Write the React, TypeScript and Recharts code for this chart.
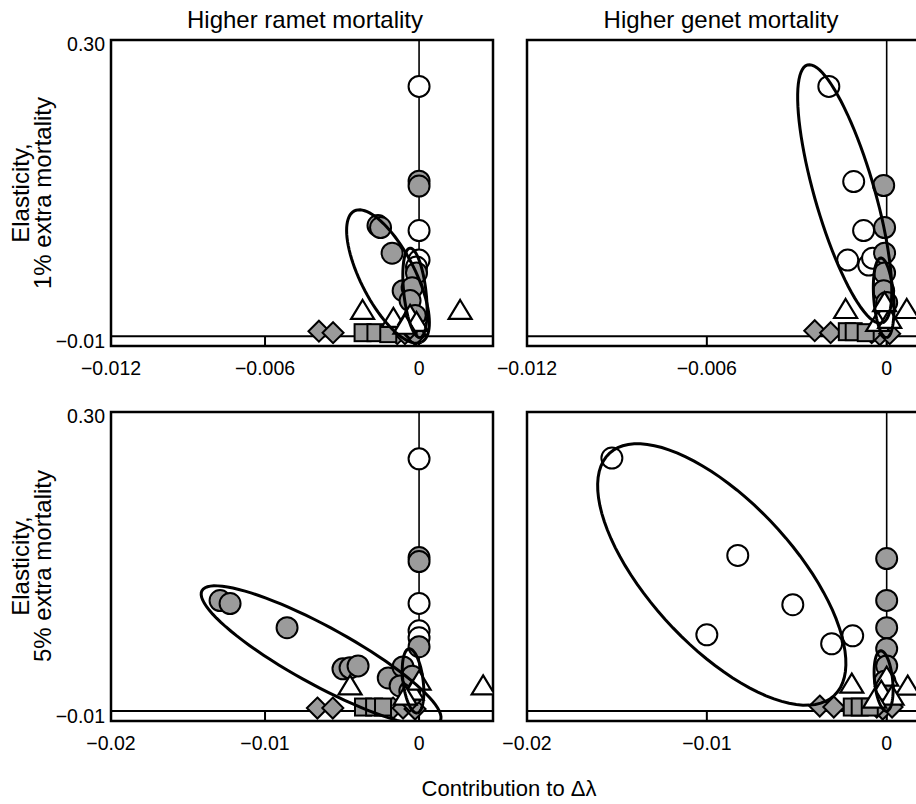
import React from 'react'

import { ScatterChart, Scatter, XAxis, YAxis, ReferenceLine, ReferenceArea } from 'recharts'

type Pt = { x: number; y: number }
type Ellipse = { cx: number; cy: number; ax: number; ay: number; bx: number; by: number }

const FONT = '"Liberation Sans", Arial, Helvetica, sans-serif'

// axes
const xTicksTop = [-0.012, -0.006, 0]
const xTicksBottom = [-0.02, -0.01, 0]
const yTicks = [-0.01, 0.3]
const xDomainTop: [number, number] = [-0.012, 0.00288]
const xDomainBottom: [number, number] = [-0.02, 0.0048]
const yDomain: [number, number] = [-0.01, 0.3]

const panelTitles = ['Higher ramet mortality', 'Higher genet mortality']
const rowLabels = [
  ['Elasticity,', '1% extra mortality'],
  ['Elasticity,', '5% extra mortality']
]
const xAxisTitle = 'Contribution to \u0394\u03bb'

// ramet, 1% extra mortality
const ramet1Open: Pt[] = [
  { x: 0, y: 0.253 }, { x: 0, y: 0.107 }, { x: 0, y: 0.077 }, { x: -0.0001, y: 0.07 }
]
const ramet1Gray: Pt[] = [
  { x: 0, y: 0.157 }, { x: 0, y: 0.152 }, { x: -0.0016, y: 0.112 }, { x: -0.0015, y: 0.11 },
  { x: -0.00105, y: 0.084 }, { x: -0.0001, y: 0.064 }, { x: -0.00062, y: 0.046 },
  { x: -0.00027, y: 0.049 }, { x: -0.00035, y: 0.036 }, { x: -0.00015, y: 0.021 }
]
const ramet1Tri: Pt[] = [
  { x: -0.0022, y: 0.026 }, { x: -0.001, y: 0.018 }, { x: 0.0016, y: 0.026 },
  { x: -0.00035, y: 0.021 }, { x: -0.0001, y: 0.014 }, { x: -0.00055, y: 0.011 }
]
const ramet1Sq: Pt[] = [
  { x: -0.0022, y: 0.0035 }, { x: -0.0017, y: 0.0035 }, { x: -0.0012, y: 0.0025 }
]
const ramet1Dia: Pt[] = [
  { x: -0.0039, y: 0.005 }, { x: -0.00335, y: 0.0035 }, { x: -0.00085, y: 0.0025 },
  { x: -0.00055, y: 0.0025 }, { x: -0.00015, y: 0.0015 }, { x: -0.00035, y: 0.008 }
]
const ramet1Ellipses: Ellipse[] = [
  { cx: -0.00121, cy: 0.0604, ax: 0.00131, ay: -0.0664, bx: 0.00094, by: 0.0124 },
  { cx: -0.00016, cy: 0.0438, ax: 0.000195, ay: -0.0453, bx: 0.00043, by: 0.0012 }
]

// genet, 1% extra mortality
const genet1Open: Pt[] = [
  { x: -0.00193, y: 0.253 }, { x: -0.0011, y: 0.1566 }, { x: -0.00077, y: 0.107 },
  { x: -0.0013, y: 0.077 }, { x: -0.0006, y: 0.072 }, { x: -0.00047, y: 0.079 }
]
const genet1Gray: Pt[] = [
  { x: -0.0001, y: 0.1526 }, { x: -0.00007, y: 0.11 }, { x: -0.00007, y: 0.084 },
  { x: -0.00007, y: 0.064 }, { x: -0.0001, y: 0.046 }, { x: 0, y: 0.034 }
]
const genet1Tri: Pt[] = [
  { x: -0.00137, y: 0.027 }, { x: 0.00067, y: 0.027 }, { x: -0.0001, y: 0.021 },
  { x: -0.0003, y: 0.014 }, { x: 0.0001, y: 0.017 }, { x: -0.00007, y: 0.034 }
]
const genet1Sq: Pt[] = [
  { x: -0.00133, y: 0.0045 }, { x: -0.0011, y: 0.0045 }, { x: -0.0007, y: 0.0035 }
]
const genet1Dia: Pt[] = [
  { x: -0.0024, y: 0.0055 }, { x: -0.00187, y: 0.0035 }, { x: -0.00023, y: 0.0015 },
  { x: -0.0005, y: 0.0035 }, { x: 0.0001, y: 0.0025 }
]
const genet1Ellipses: Ellipse[] = [
  { cx: -0.0014, cy: 0.144, ax: 0.001243, ay: -0.1307, bx: 0.00096, by: 0.00836 },
  { cx: -0.0001, cy: 0.0388, ax: 0.0001, ay: -0.0403, bx: 0.00033, by: 0.001 }
]

// ramet, 5% extra mortality
const ramet5Open: Pt[] = [
  { x: 0, y: 0.253 }, { x: 0, y: 0.108 }, { x: 0, y: 0.0805 }, { x: 0, y: 0.0735 }
]
const ramet5Gray: Pt[] = [
  { x: 0, y: 0.154 }, { x: 0, y: 0.15 }, { x: 0, y: 0.0645 }, { x: -0.01292, y: 0.1108 },
  { x: -0.01227, y: 0.1078 }, { x: -0.00857, y: 0.0836 }, { x: -0.00494, y: 0.0423 },
  { x: -0.00448, y: 0.0433 }, { x: -0.00396, y: 0.0453 }, { x: -0.002, y: 0.0332 },
  { x: -0.00104, y: 0.0443 }, { x: -0.00123, y: 0.0252 }, { x: -0.0006, y: 0.02 },
  { x: -0.00045, y: 0.035 }
]
const ramet5Tri: Pt[] = [
  { x: -0.00448, y: 0.0252 }, { x: 0.00416, y: 0.0252 }, { x: -0.00045, y: 0.02 },
  { x: 0, y: 0.03 }, { x: -0.0009, y: 0.015 }
]
const ramet5Sq: Pt[] = [
  { x: -0.00364, y: 0.004 }, { x: -0.00292, y: 0.004 }, { x: -0.00234, y: 0.004 }
]
const ramet5Dia: Pt[] = [
  { x: -0.0066, y: 0.003 }, { x: -0.0056, y: 0.003 }, { x: -0.00169, y: 0.003 },
  { x: -0.00104, y: 0.003 }, { x: -0.00026, y: 0.002 }, { x: -0.0006, y: 0.01 }
]
const ramet5Ellipses: Ellipse[] = [
  { cx: -0.00636, cy: 0.0554, ax: 0.007734, ay: -0.06536, bx: 0.000903, by: 0.0257 },
  { cx: -0.00039, cy: 0.0302, ax: 0.00026, ay: -0.0322, bx: 0.00065, by: 0.001 }
]

// genet, 5% extra mortality
const genet5Open: Pt[] = [
  { x: -0.01528, y: 0.2538 }, { x: -0.00828, y: 0.1561 }, { x: -0.00522, y: 0.1067 },
  { x: -0.01, y: 0.0765 }, { x: -0.00306, y: 0.0675 }, { x: -0.00189, y: 0.0755 }
]
const genet5Gray: Pt[] = [
  { x: 0, y: 0.153 }, { x: 0, y: 0.111 }, { x: 0, y: 0.0836 }, { x: 0, y: 0.0624 },
  { x: 0, y: 0.0453 }, { x: -0.0001, y: 0.03 }
]
const genet5Tri: Pt[] = [
  { x: -0.00194, y: 0.027 }, { x: 0.00117, y: 0.025 }, { x: 0, y: 0.034 },
  { x: -0.0003, y: 0.02 }, { x: 0.0003, y: 0.015 }, { x: -0.00067, y: 0.012 }
]
const genet5Sq: Pt[] = [
  { x: -0.00194, y: 0.004 }, { x: -0.0015, y: 0.004 }, { x: -0.00094, y: 0.004 }
]
const genet5Dia: Pt[] = [
  { x: -0.00372, y: 0.005 }, { x: -0.00294, y: 0.004 }, { x: -0.00022, y: 0.002 },
  { x: -0.00055, y: 0.004 }, { x: 0.0003, y: 0.004 }
]
const genet5Ellipses: Ellipse[] = [
  { cx: -0.00917, cy: 0.137, ax: 0.00625, ay: -0.1215, bx: 0.00293, by: 0.0494 },
  { cx: -0.00017, cy: 0.0302, ax: 0.00017, ay: -0.0302, bx: 0.0005, by: 0.001 }
]

// outline of a confidence ellipse from its centre and two semi-axis vectors
const ellipseOutline = (e: Ellipse): Pt[] => {
  const pts: Pt[] = []
  for (let i = 0; i <= 90; i++) {
    const t = (i / 90) * Math.PI * 2
    pts.push({
      x: e.cx + e.ax * Math.cos(t) + e.bx * Math.sin(t),
      y: e.cy + e.ay * Math.cos(t) + e.by * Math.sin(t)
    })
  }
  return pts
}

const fmtX = (v: number) => (v === 0 ? '0' : '\u2212' + String(Math.abs(v)))
const fmtY = (v: number) => (v < 0 ? '\u2212' : '') + Math.abs(v).toFixed(2)

const GRAY = '#9b9b9b'
const TICK_FONT = 19.5

const openCircle = (p: any) => <circle cx={p.cx} cy={p.cy} r={10.5} fill="#fff" stroke="#000" strokeWidth={2} />
const grayCircle = (p: any) => <circle cx={p.cx} cy={p.cy} r={10.5} fill={GRAY} stroke="#000" strokeWidth={2} />
const triangle = (p: any) => (
  <path
    d={`M${p.cx},${p.cy - 10.5}L${p.cx + 11.5},${p.cy + 8.5}L${p.cx - 11.5},${p.cy + 8.5}Z`}
    fill="#fff"
    stroke="#000"
    strokeWidth={2.2}
  />
)
const square = (p: any) => <rect x={p.cx - 8} y={p.cy - 8.5} width={16} height={17} fill={GRAY} stroke="#000" strokeWidth={2} />
const diamond = (p: any) => (
  <path
    d={`M${p.cx},${p.cy - 10.5}L${p.cx + 10.5},${p.cy}L${p.cx},${p.cy + 10.5}L${p.cx - 10.5},${p.cy}Z`}
    fill={GRAY}
    stroke="#000"
    strokeWidth={2}
  />
)
const noShape = () => <g />

const renderYTick = (props: any) => {
  const { x, y, payload } = props
  return (
    <text x={x} y={y + (payload.value > 0 ? 4 : -5)} dy="0.35em" textAnchor="end" fontSize={TICK_FONT} fontFamily={FONT} fill="#000">
      {fmtY(payload.value)}
    </text>
  )
}

interface PanelProps {
  left: number
  top: number
  width: number
  height: number
  margin: { top: number; right: number; left: number; bottom: number }
  xDomain: [number, number]
  xTicks: number[]
  showYAxis: boolean
  open: Pt[]
  gray: Pt[]
  tri: Pt[]
  sq: Pt[]
  dia: Pt[]
  ellipses: Ellipse[]
}

const Panel = ({ left, top, width, height, margin, xDomain, xTicks, showYAxis, open, gray, tri, sq, dia, ellipses }: PanelProps) => {
  return (
    <div style={{ position: 'absolute', left, top }}>
      <ScatterChart width={width} height={height} margin={margin}>
        <XAxis
          type="number"
          dataKey="x"
          domain={xDomain}
          ticks={xTicks}
          interval={0}
          allowDataOverflow
          tickLine={false}
          axisLine={false}
          tickMargin={9}
          height={30}
          tick={{ fontSize: TICK_FONT, fill: '#000', fontFamily: FONT }}
          tickFormatter={fmtX}
        />
        <YAxis
          type="number"
          dataKey="y"
          domain={yDomain}
          ticks={yTicks}
          interval={0}
          allowDataOverflow
          hide={!showYAxis}
          width={111}
          tickLine={false}
          axisLine={false}
          tickMargin={0}
          tick={renderYTick}
        />
        <ReferenceLine x={0} stroke="#000" strokeWidth={1.6} />
        <ReferenceLine y={0} stroke="#000" strokeWidth={2} />
        {xTicks.map((t) => (
          <ReferenceLine key={t} segment={[{ x: t, y: -0.01 }, { x: t, y: 0 }]} stroke="#000" strokeWidth={2} />
        ))}
        <ReferenceArea x1={xDomain[0]} x2={xDomain[1]} y1={yDomain[0]} y2={yDomain[1]} fill="none" fillOpacity={0} stroke="#000" strokeWidth={2.5} />
        <Scatter data={dia} shape={diamond} isAnimationActive={false} />
        <Scatter data={sq} shape={square} isAnimationActive={false} />
        <Scatter data={open} shape={openCircle} isAnimationActive={false} />
        <Scatter data={gray} shape={grayCircle} isAnimationActive={false} />
        <Scatter data={tri} shape={triangle} isAnimationActive={false} />
        {ellipses.map((e, i) => (
          <Scatter
            key={i}
            data={ellipseOutline(e)}
            shape={noShape}
            line={{ stroke: '#000', strokeWidth: 3, fill: 'none' }}
            lineType="joint"
            isAnimationActive={false}
          />
        ))}
      </ScatterChart>
    </div>
  )
}

const App = () => {
  const leftMargin = { top: 40, right: 7, left: 0, bottom: 9 }
  const rightMargin = { top: 40, right: 7, left: 67, bottom: 9 }
  return (
    <div style={{ position: 'absolute', left: 0, top: 0, width: 916, height: 804, overflow: 'hidden', background: '#fff' }}>
      <Panel left={0} top={0} width={500} height={385} margin={leftMargin} xDomain={xDomainTop} xTicks={xTicksTop} showYAxis
        open={ramet1Open} gray={ramet1Gray} tri={ramet1Tri} sq={ramet1Sq} dia={ramet1Dia} ellipses={ramet1Ellipses} />
      <Panel left={460} top={0} width={520} height={385} margin={rightMargin} xDomain={xDomainTop} xTicks={xTicksTop} showYAxis={false}
        open={genet1Open} gray={genet1Gray} tri={genet1Tri} sq={genet1Sq} dia={genet1Dia} ellipses={genet1Ellipses} />
      <Panel left={0} top={372} width={500} height={388} margin={leftMargin} xDomain={xDomainBottom} xTicks={xTicksBottom} showYAxis
        open={ramet5Open} gray={ramet5Gray} tri={ramet5Tri} sq={ramet5Sq} dia={ramet5Dia} ellipses={ramet5Ellipses} />
      <Panel left={460} top={372} width={520} height={388} margin={rightMargin} xDomain={xDomainBottom} xTicks={xTicksBottom} showYAxis={false}
        open={genet5Open} gray={genet5Gray} tri={genet5Tri} sq={genet5Sq} dia={genet5Dia} ellipses={genet5Ellipses} />
      <svg width={916} height={804} style={{ position: 'absolute', left: 0, top: 0, pointerEvents: 'none' }} fontFamily={FONT}>
        <text x={305} y={28} fontSize={24} textAnchor="middle" fill="#000">{panelTitles[0]}</text>
        <text x={721} y={28} fontSize={24} textAnchor="middle" fill="#000">{panelTitles[1]}</text>
        {rowLabels.map((lines, r) => {
          const cy = r === 0 ? 193 : 566
          return (
            <g key={r}>
              <text transform={`translate(29,${cy}) rotate(-90)`} fontSize={24} textAnchor="middle" fill="#000">{lines[0]}</text>
              <text transform={`translate(51,${cy}) rotate(-90)`} fontSize={24} textAnchor="middle" fill="#000">{lines[1]}</text>
            </g>
          )
        })}
        <text x={509} y={796} fontSize={22} textAnchor="middle" fill="#000">{xAxisTitle}</text>
      </svg>
    </div>
  )
}

export default App
